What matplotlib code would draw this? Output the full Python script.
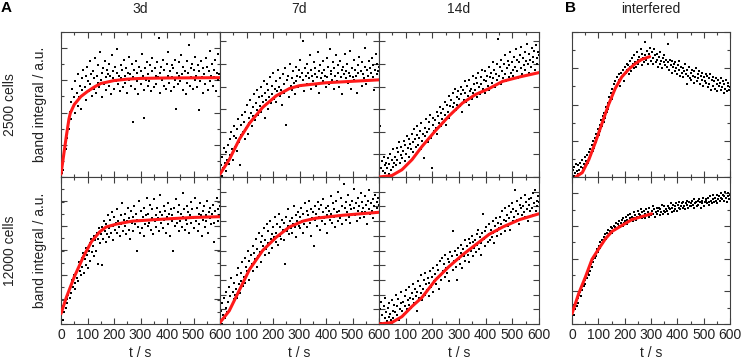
import numpy as np
import matplotlib
matplotlib.use("Agg")
import matplotlib.pyplot as plt
from matplotlib.ticker import MultipleLocator

plt.rcParams['font.family'] = ['Liberation Sans', 'DejaVu Sans']
plt.rcParams['font.size'] = 10

# sampling times of the measured points (s) and y values in % of axis height
t_pts = np.arange(0, 601, 3)

a3d_2500 = [
    1, 3, 5, 10, 16, 22, 19, 30, 27, 37,
    33, 45, 52, 40, 61, 48, 55, 44, 66, 52,
    58, 49, 71, 55, 63, 47, 68, 60, 74, 57,
    62, 70, 53, 76, 66, 59, 80, 64, 71, 56,
    73, 61, 68, 82, 58, 70, 65, 77, 62, 86,
    67, 72, 55, 75, 64, 80, 69, 60, 74, 71,
    63, 78, 70, 57, 84, 68, 73, 61, 76, 66,
    72, 88, 64, 70, 59, 77, 68, 74, 62, 81,
    70, 65, 75, 58, 72, 83, 67, 71, 63, 78,
    38, 69, 74, 61, 80, 66, 72, 57, 76, 68,
    73, 64, 85, 70, 60, 41, 75, 67, 79, 63,
    71, 66, 77, 59, 73, 82, 68, 62, 75, 70,
    64, 79, 69, 96, 72, 58, 76, 67, 81, 63,
    74, 68, 61, 78, 70, 86, 65, 73, 59, 77,
    69, 75, 62, 81, 67, 47, 72, 64, 79, 70,
    66, 84, 71, 60, 76, 68, 73, 57, 80, 65,
    72, 91, 63, 75, 69, 78, 61, 74, 67, 83,
    70, 62, 77, 46, 73, 66, 80, 69, 58, 75,
    71, 64, 82, 68, 76, 60, 73, 87, 66, 70,
    78, 63, 74, 69, 81, 59, 72, 67, 85, 71,
    68]

a3d_12000 = [
    5, 9, 3, 12, 8, 15, 11, 17, 14, 20,
    23, 18, 26, 21, 30, 25, 33, 28, 24, 35,
    31, 38, 29, 42, 36, 33, 45, 39, 48, 35,
    44, 40, 52, 47, 38, 50, 55, 43, 58, 49,
    53, 46, 60, 57, 50, 62, 41, 58, 65, 55,
    61, 40, 66, 58, 70, 63, 56, 68, 61, 74,
    65, 59, 71, 62, 76, 67, 57, 73, 64, 69,
    78, 62, 70, 66, 60, 74, 68, 82, 63, 71,
    67, 75, 61, 70, 79, 64, 72, 58, 77, 69,
    73, 63, 80, 68, 75, 50, 71, 66, 84, 62,
    70, 77, 65, 73, 60, 79, 68, 74, 86, 67,
    75, 69, 81, 64, 72, 78, 61, 85, 70, 74,
    66, 79, 72, 63, 76, 88, 69, 74, 65, 80,
    71, 77, 62, 73, 68, 82, 75, 60, 78, 70,
    74, 50, 79, 67, 72, 85, 69, 76, 63, 81,
    70, 75, 66, 89, 73, 78, 64, 71, 80, 68,
    76, 62, 74, 83, 69, 78, 72, 65, 86, 73,
    70, 79, 63, 75, 68, 82, 74, 60, 77, 71,
    80, 66, 74, 70, 84, 62, 76, 72, 79, 68,
    75, 81, 69, 56, 77, 73, 86, 70, 78, 74,
    80]

a7d_2500 = [
    3, 8, 1, 14, 6, 20, 10, 4, 17, 12,
    22, 9, 26, 15, 31, 19, 12, 28, 35, 21,
    27, 18, 33, 40, 24, 8, 36, 29, 43, 31,
    38, 26, 45, 34, 50, 30, 41, 37, 53, 44,
    35, 48, 42, 57, 39, 51, 46, 60, 43, 55,
    49, 62, 45, 56, 52, 66, 41, 58, 53, 64,
    47, 60, 55, 69, 51, 63, 57, 72, 54, 61,
    66, 52, 59, 74, 62, 56, 68, 60, 50, 71,
    64, 58, 75, 36, 67, 61, 70, 55, 78, 63,
    68, 60, 73, 65, 57, 76, 66, 70, 62, 74,
    69, 81, 63, 72, 94, 67, 59, 75, 70, 78,
    64, 72, 68, 84, 61, 74, 70, 66, 79, 71,
    75, 63, 69, 86, 73, 58, 77, 68, 72, 80,
    66, 74, 70, 62, 82, 69, 76, 64, 88, 71,
    73, 67, 79, 61, 75, 70, 84, 66, 72, 77,
    62, 80, 69, 74, 57, 76, 71, 85, 68, 73,
    78, 65, 72, 87, 70, 61, 75, 69, 81, 67,
    74, 70, 58, 77, 72, 83, 66, 73, 63, 79,
    71, 68, 76, 89, 64, 74, 70, 80, 67, 75,
    72, 82, 69, 77, 60, 74, 85, 71, 78, 73,
    76]

a7d_12000 = [
    2, 9, 0, 14, 6, 18, 4, 11, 22, 8,
    15, 25, 10, 19, 31, 13, 22, 17, 28, 20,
    24, 33, 18, 38, 27, 21, 35, 29, 42, 26,
    32, 45, 28, 39, 36, 50, 30, 43, 38, 47,
    41, 53, 36, 48, 44, 58, 39, 51, 46, 62,
    49, 56, 42, 60, 53, 65, 47, 57, 51, 68,
    55, 63, 48, 70, 58, 61, 52, 66, 59, 73,
    62, 56, 68, 54, 75, 60, 66, 58, 71, 64,
    69, 57, 41, 73, 63, 67, 78, 61, 70, 65,
    72, 62, 68, 80, 66, 74, 59, 70, 76, 67,
    73, 65, 79, 70, 62, 75, 68, 82, 71, 77,
    66, 74, 84, 69, 78, 60, 72, 76, 53, 80,
    71, 75, 67, 83, 73, 78, 64, 81, 70, 76,
    85, 72, 68, 79, 74, 62, 80, 77, 71, 87,
    75, 69, 82, 73, 78, 66, 84, 76, 70, 90,
    77, 72, 86, 68, 80, 74, 95, 79, 71, 83,
    76, 88, 73, 81, 69, 78, 84, 75, 92, 79,
    74, 82, 70, 86, 77, 80, 72, 89, 76, 83,
    79, 73, 87, 76, 81, 68, 84, 78, 91, 75,
    82, 77, 85, 72, 80, 88, 76, 83, 79, 86,
    81]

a14d_2500 = [
    2, 35, 6, 0, 11, 4, 14, 8, 3, 10,
    6, 13, 2, 9, 16, 5, 12, 7, 19, 10,
    14, 8, 20, 12, 17, 24, 10, 15, 21, 13,
    18, 25, 11, 22, 16, 28, 20, 14, 26, 23,
    19, 30, 24, 17, 33, 26, 21, 29, 35, 22,
    27, 32, 19, 37, 25, 30, 13, 34, 28, 40,
    31, 24, 38, 33, 43, 27, 6, 36, 41, 32,
    39, 34, 45, 30, 42, 37, 48, 35, 44, 40,
    47, 38, 52, 43, 36, 50, 45, 56, 41, 49,
    53, 44, 58, 48, 51, 61, 46, 55, 50, 59,
    54, 49, 62, 57, 45, 60, 53, 66, 58, 52,
    63, 56, 50, 67, 59, 61, 54, 70, 58, 64,
    60, 68, 55, 65, 72, 62, 57, 69, 64, 74,
    61, 67, 58, 73, 66, 70, 63, 76, 60, 69,
    72, 65, 79, 68, 74, 62, 71, 78, 67, 95,
    70, 76, 64, 81, 73, 68, 78, 71, 84, 66,
    75, 80, 69, 77, 86, 72, 79, 74, 70, 83,
    76, 88, 73, 81, 68, 79, 84, 75, 90, 71,
    82, 77, 86, 74, 80, 92, 78, 72, 85, 81,
    76, 89, 83, 79, 87, 74, 91, 82, 78, 86,
    84]

a14d_12000 = [
    3, 10, 1, 15, 6, 0, 12, 4, 18, 8,
    2, 11, 5, 14, 7, 3, 16, 9, 4, 13,
    8, 20, 6, 12, 17, 3, 10, 22, 14, 9,
    15, 7, 19, 12, 23, 10, 16, 25, 13, 18,
    11, 21, 17, 27, 14, 24, 19, 9, 22, 29,
    18, 26, 21, 33, 16, 24, 30, 20, 35, 27,
    23, 31, 19, 28, 36, 25, 32, 22, 38, 29,
    34, 27, 40, 31, 37, 24, 43, 33, 30, 45,
    36, 41, 32, 47, 38, 35, 44, 29, 42, 49,
    40, 46, 37, 63, 43, 50, 39, 30, 47, 52,
    44, 41, 54, 48, 38, 51, 46, 57, 43, 49,
    53, 47, 58, 42, 55, 50, 60, 46, 56, 52,
    57, 49, 61, 54, 64, 51, 59, 55, 47, 62,
    75, 58, 63, 53, 66, 60, 56, 68, 61, 57,
    64, 59, 70, 62, 55, 67, 72, 63, 60, 69,
    65, 73, 61, 68, 77, 66, 71, 63, 79, 70,
    74, 67, 80, 72, 64, 76, 82, 70, 78, 73,
    91, 77, 71, 84, 75, 68, 81, 79, 86, 74,
    80, 76, 88, 73, 83, 78, 70, 85, 81, 77,
    86, 79, 74, 89, 82, 91, 77, 84, 80, 87,
    83]

int_2500 = [
    2, 5, 1, 7, 3, 9, 4, 2, 8, 5,
    10, 3, 7, 12, 6, 9, 14, 8, 11, 15,
    10, 17, 13, 19, 15, 22, 18, 25, 20, 27,
    24, 30, 27, 33, 29, 36, 32, 39, 35, 42,
    38, 44, 41, 48, 45, 51, 47, 55, 52, 58,
    54, 61, 57, 64, 60, 66, 62, 69, 65, 71,
    67, 63, 72, 69, 74, 70, 66, 76, 72, 78,
    74, 77, 71, 80, 76, 73, 82, 78, 75, 84,
    79, 76, 86, 81, 78, 83, 80, 88, 77, 85,
    82, 79, 93, 84, 81, 87, 78, 85, 83, 89,
    80, 86, 82, 78, 88, 84, 79, 85, 81, 76,
    83, 78, 86, 80, 75, 82, 79, 84, 77, 81,
    76, 92, 79, 74, 81, 77, 72, 80, 76, 78,
    73, 79, 75, 71, 77, 74, 80, 70, 76, 72,
    75, 69, 73, 78, 71, 64, 74, 70, 76, 68,
    72, 67, 74, 70, 65, 73, 69, 75, 66, 71,
    68, 73, 64, 70, 67, 72, 63, 69, 66, 71,
    65, 70, 62, 68, 64, 71, 60, 67, 63, 69,
    66, 61, 68, 64, 59, 67, 63, 65, 60, 68,
    62, 66, 58, 64, 61, 67, 59, 63, 65, 60,
    62]

int_12000 = [
    8, 11, 6, 13, 10, 15, 12, 18, 14, 20,
    22, 19, 25, 23, 28, 26, 30, 27, 33, 31,
    35, 33, 38, 36, 41, 39, 44, 42, 46, 45,
    48, 46, 51, 49, 53, 52, 56, 54, 57, 55,
    59, 57, 61, 58, 62, 60, 64, 61, 63, 66,
    62, 65, 63, 67, 64, 66, 69, 65, 68, 67,
    70, 66, 69, 71, 67, 72, 69, 70, 73, 68,
    71, 74, 70, 72, 75, 71, 73, 70, 76, 72,
    74, 71, 73, 77, 72, 75, 74, 78, 72, 76,
    73, 77, 75, 72, 78, 74, 76, 73, 79, 75,
    74, 77, 80, 75, 78, 73, 76, 79, 75, 77,
    79, 74, 78, 76, 81, 75, 77, 80, 76, 78,
    77, 80, 75, 79, 78, 82, 76, 79, 81, 77,
    80, 78, 82, 77, 81, 79, 83, 78, 80, 82,
    79, 83, 80, 78, 82, 81, 84, 79, 83, 80,
    82, 80, 84, 81, 79, 85, 82, 83, 80, 84,
    81, 85, 83, 79, 84, 82, 86, 80, 83, 85,
    84, 82, 86, 83, 81, 87, 84, 82, 85, 88,
    83, 86, 84, 88, 82, 85, 87, 84, 89, 86,
    85, 88, 84, 87, 90, 86, 83, 89, 87, 85,
    88]

# fitted curves (red), read at a few times
fit_a3d_2500_t = [0, 10, 20, 30, 35, 50, 75, 100, 125, 150, 200, 250, 300, 400, 500, 600]
fit_a3d_2500_y = [2, 15, 28, 40, 44, 50, 55.5, 59, 62, 64.5, 66.5, 67.5, 68, 68.3, 68.4, 68.5]
fit_a3d_12000_t = [0, 20, 50, 85, 115, 145, 170, 210, 270, 400, 500, 600]
fit_a3d_12000_y = [7, 18, 32, 46, 56, 62.5, 66, 68, 70, 71.5, 72.5, 73]
fit_a7d_2500_t = [0, 35, 73, 111, 161, 212, 262, 300, 400, 500, 600]
fit_a7d_2500_y = [2, 12, 26, 37, 48, 56, 61, 63, 65, 66, 67]
fit_a7d_12000_t = [0, 35, 73, 111, 161, 212, 262, 313, 363, 464, 600]
fit_a7d_12000_y = [1, 9, 23, 37, 50, 59, 66, 70, 72, 74, 76]
fit_a14d_2500_t = [0, 48, 86, 124, 161, 212, 262, 313, 363, 413, 464, 527, 600]
fit_a14d_2500_y = [0, 1, 5, 12, 21, 32, 42, 51, 57, 61, 66, 69, 72]
fit_a14d_12000_t = [0, 48, 86, 124, 161, 212, 262, 313, 363, 413, 464, 527, 600]
fit_a14d_12000_y = [0, 1, 5, 12, 18, 30, 39, 47, 54, 61, 66, 71, 75]
fit_int_2500_t = [14, 39, 64, 89, 114, 139, 164, 189, 214, 239, 264, 295]
fit_int_2500_y = [0, 3, 12, 24, 37, 50, 61, 69, 74, 78, 81, 83]
fit_int_12000_t = [0, 26, 51, 76, 101, 127, 152, 189, 227, 264, 302]
fit_int_12000_y = [7, 21, 32, 44, 51, 58, 63, 67, 71, 73, 75]

col_titles = ["3d", "7d", "14d", "interfered"]
row_titles = ["2500 cells", "12000 cells"]
xtick_vals = [0, 100, 200, 300, 400, 500, 600]

W, H = 743, 361
fig = plt.figure(figsize=(W / 100, H / 100), dpi=100)

def rect(x0, x1, y0, y1):
    # pixel box -> figure fraction
    return [x0 / W, 1 - y1 / H, (x1 - x0) / W, (y1 - y0) / H]

col_x = [(61, 220), (220, 379), (379, 539), (572, 730)]
row_y = [(32, 177), (177, 324)]

panels = [
    [(a3d_2500, fit_a3d_2500_t, fit_a3d_2500_y, 22.22, 11.11),
     (a7d_2500, fit_a7d_2500_t, fit_a7d_2500_y, 15.6, None),
     (a14d_2500, fit_a14d_2500_t, fit_a14d_2500_y, 15.6, None),
     (int_2500, fit_int_2500_t, fit_int_2500_y, 25, 12.5)],
    [(a3d_12000, fit_a3d_12000_t, fit_a3d_12000_y, 16.67, 8.33),
     (a7d_12000, fit_a7d_12000_t, fit_a7d_12000_y, 10, None),
     (a14d_12000, fit_a14d_12000_t, fit_a14d_12000_y, 10, None),
     (int_12000, fit_int_12000_t, fit_int_12000_y, 22.22, 11.11)],
]

for r in range(2):
    for c in range(4):
        pts, ft, fy, ymaj, ymin = panels[r][c]
        ax = fig.add_axes(rect(col_x[c][0], col_x[c][1], row_y[r][0], row_y[r][1]))
        ax.scatter(t_pts, pts, s=3.2, marker='s', color='black', linewidths=0, zorder=2)
        ax.plot(ft, fy, color='#ff1a1a', lw=2.2, zorder=3, solid_capstyle='round')
        ax.set_xlim(0, 600)
        ax.set_ylim(0, 100)
        ax.xaxis.set_minor_locator(MultipleLocator(50))
        ax.yaxis.set_major_locator(MultipleLocator(ymaj))
        if ymin:
            ax.yaxis.set_minor_locator(MultipleLocator(ymin))
        ax.set_xticks(xtick_vals)
        ax.tick_params(which='both', direction='in', top=True, right=True,
                       color='#404040', width=0.8, labelleft=False)
        ax.tick_params(which='major', length=4)
        ax.tick_params(which='minor', length=2.5)
        for sp in ax.spines.values():
            sp.set_color('#404040')
            sp.set_linewidth(0.8)
        if r == 0:
            ax.tick_params(labelbottom=False)
        else:
            labels = [str(v) for v in xtick_vals]
            if c in (1, 2):
                labels[0] = ''
            ax.set_xticklabels(labels)
            ax.tick_params(axis='x', pad=3, labelsize=10, labelcolor='#222222')
            xc = (col_x[c][0] + col_x[c][1]) / 2
            fig.text(xc / W, 1 - 353 / H, "t / s", ha='center', va='center',
                     fontsize=10, color='#222222')

for c, title in enumerate(col_titles):
    xc = (col_x[c][0] + col_x[c][1]) / 2
    fig.text(xc / W, 1 - 9 / H, title, ha='center', va='center', fontsize=10, color='#222222')

for r, label in enumerate(row_titles):
    yc = (row_y[r][0] + row_y[r][1]) / 2
    fig.text(10 / W, 1 - yc / H, label, rotation=90, ha='center', va='center', fontsize=10, color='#222222')
    fig.text(40 / W, 1 - yc / H, "band integral / a.u.", rotation=90, ha='center', va='center',
             fontsize=10, color='#222222')

fig.text(6 / W, 1 - 8 / H, "A", ha='center', va='center', fontsize=11, fontweight='bold')
fig.text(570 / W, 1 - 8 / H, "B", ha='center', va='center', fontsize=11, fontweight='bold')

fig.savefig("out.png", dpi=100)
